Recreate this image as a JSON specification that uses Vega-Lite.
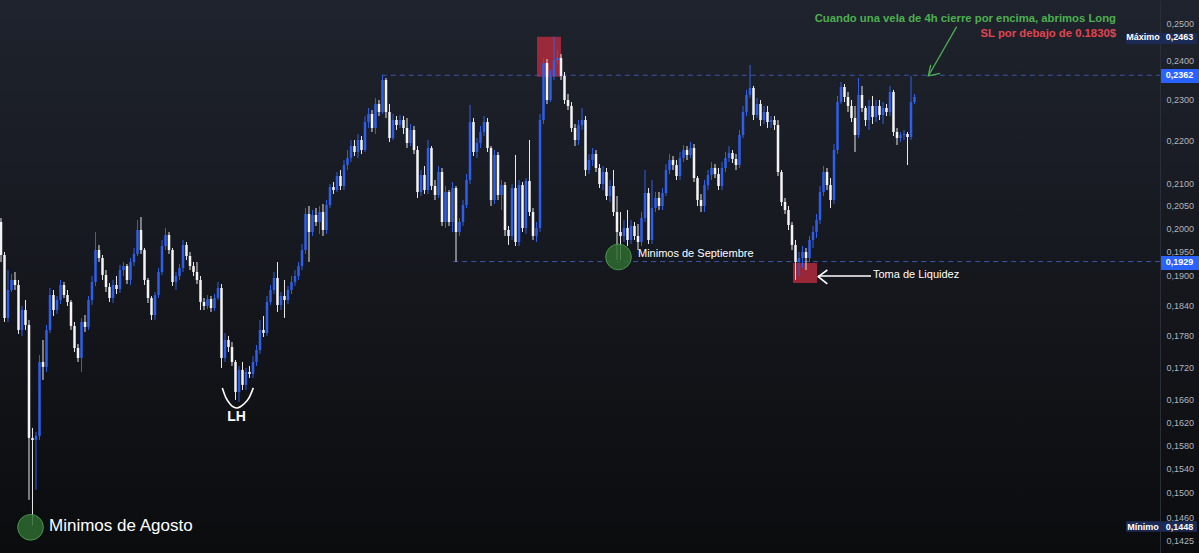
{
"$schema": "https://vega.github.io/schema/vega-lite/v6.json",
"width": 1199, "height": 553, "padding": 0, "autosize": {"type": "none"},
"background": "#131519",
"config": {"view": {"stroke": null, "fill": {"gradient": "linear", "x1": 0, "y1": 0, "x2": 0, "y2": 1, "stops": [{"offset": 0, "color": "#1f232d"}, {"offset": 1, "color": "#0b0c0e"}]}},
  "axisY": {"ticks": false, "grid": false, "domain": true, "domainColor": "#2a2e39", "labelColor": "#b2b5be", "labelFont": "Liberation Sans", "labelFontSize": 9, "labelPadding": 6, "labelOverlap": false, "labelFlush": false, "title": null}},
"datasets": {
"candles": [
{"k":0,"o":0.20138,"h":0.20225,"l":0.19281,"c":0.19429},
{"k":1,"o":0.19429,"h":0.19492,"l":0.18065,"c":0.18143},
{"k":2,"o":0.18143,"h":0.19114,"l":0.18065,"c":0.18703},
{"k":3,"o":0.18703,"h":0.19031,"l":0.18662,"c":0.18908},
{"k":4,"o":0.18908,"h":0.19073,"l":0.18703,"c":0.18805},
{"k":5,"o":0.18805,"h":0.18908,"l":0.17831,"c":0.17908},
{"k":6,"o":0.17908,"h":0.18381,"l":0.17792,"c":0.18301},
{"k":7,"o":0.18301,"h":0.18501,"l":0.17908,"c":0.18006},
{"k":8,"o":0.18006,"h":0.18104,"l":0.14889,"c":0.15926},
{"k":9,"o":0.15926,"h":0.16100,"l":0.14480,"c":0.15891},
{"k":10,"o":0.15891,"h":0.16030,"l":0.15051,"c":0.15961},
{"k":11,"o":0.15961,"h":0.17428,"l":0.15891,"c":0.17296},
{"k":12,"o":0.17296,"h":0.17714,"l":0.16962,"c":0.17203},
{"k":13,"o":0.17203,"h":0.18006,"l":0.17110,"c":0.17908},
{"k":14,"o":0.17908,"h":0.18744,"l":0.17850,"c":0.18602},
{"k":15,"o":0.18602,"h":0.18703,"l":0.18183,"c":0.18301},
{"k":16,"o":0.18301,"h":0.18582,"l":0.18222,"c":0.18501},
{"k":17,"o":0.18501,"h":0.18908,"l":0.18421,"c":0.18805},
{"k":18,"o":0.18805,"h":0.18867,"l":0.18541,"c":0.18602},
{"k":19,"o":0.18602,"h":0.18703,"l":0.18381,"c":0.18461},
{"k":20,"o":0.18461,"h":0.18501,"l":0.17908,"c":0.17986},
{"k":21,"o":0.17986,"h":0.18065,"l":0.17485,"c":0.17561},
{"k":22,"o":0.17561,"h":0.17638,"l":0.17296,"c":0.17371},
{"k":23,"o":0.17371,"h":0.18143,"l":0.17110,"c":0.18065},
{"k":24,"o":0.18065,"h":0.18202,"l":0.17869,"c":0.17967},
{"k":25,"o":0.17967,"h":0.18582,"l":0.17908,"c":0.18501},
{"k":26,"o":0.18501,"h":0.18990,"l":0.18401,"c":0.18867},
{"k":27,"o":0.18867,"h":0.19919,"l":0.18785,"c":0.19534},
{"k":28,"o":0.19534,"h":0.19641,"l":0.19281,"c":0.19365},
{"k":29,"o":0.19365,"h":0.19429,"l":0.18908,"c":0.19011},
{"k":30,"o":0.19011,"h":0.19114,"l":0.18662,"c":0.18764},
{"k":31,"o":0.18764,"h":0.18846,"l":0.18461,"c":0.18541},
{"k":32,"o":0.18541,"h":0.18908,"l":0.18441,"c":0.18805},
{"k":33,"o":0.18805,"h":0.18990,"l":0.18622,"c":0.18723},
{"k":34,"o":0.18723,"h":0.19218,"l":0.18642,"c":0.19114},
{"k":35,"o":0.19114,"h":0.19281,"l":0.18990,"c":0.19197},
{"k":36,"o":0.19197,"h":0.19239,"l":0.18826,"c":0.18908},
{"k":37,"o":0.18908,"h":0.19365,"l":0.18805,"c":0.19281},
{"k":38,"o":0.19281,"h":0.19577,"l":0.19197,"c":0.19450},
{"k":39,"o":0.19450,"h":0.20181,"l":0.19407,"c":0.19963},
{"k":40,"o":0.19963,"h":0.20247,"l":0.19450,"c":0.19534},
{"k":41,"o":0.19534,"h":0.19577,"l":0.18805,"c":0.18908},
{"k":42,"o":0.18908,"h":0.18949,"l":0.18441,"c":0.18541},
{"k":43,"o":0.18541,"h":0.18582,"l":0.18104,"c":0.18202},
{"k":44,"o":0.18202,"h":0.18662,"l":0.18104,"c":0.18602},
{"k":45,"o":0.18602,"h":0.19156,"l":0.18541,"c":0.19073},
{"k":46,"o":0.19073,"h":0.19748,"l":0.19011,"c":0.19619},
{"k":47,"o":0.19619,"h":0.20007,"l":0.19534,"c":0.19855},
{"k":48,"o":0.19855,"h":0.19919,"l":0.19450,"c":0.19534},
{"k":49,"o":0.19534,"h":0.19577,"l":0.18785,"c":0.18867},
{"k":50,"o":0.18867,"h":0.19073,"l":0.18703,"c":0.18990},
{"k":51,"o":0.18990,"h":0.19239,"l":0.18908,"c":0.19156},
{"k":52,"o":0.19156,"h":0.19748,"l":0.19073,"c":0.19641},
{"k":53,"o":0.19641,"h":0.19705,"l":0.19323,"c":0.19407},
{"k":54,"o":0.19407,"h":0.19492,"l":0.19114,"c":0.19197},
{"k":55,"o":0.19197,"h":0.19281,"l":0.18990,"c":0.19073},
{"k":56,"o":0.19073,"h":0.19281,"l":0.18826,"c":0.18908},
{"k":57,"o":0.18908,"h":0.18990,"l":0.18301,"c":0.18461},
{"k":58,"o":0.18461,"h":0.18541,"l":0.18301,"c":0.18381},
{"k":59,"o":0.18381,"h":0.18602,"l":0.18321,"c":0.18521},
{"k":60,"o":0.18521,"h":0.18582,"l":0.18262,"c":0.18341},
{"k":61,"o":0.18341,"h":0.18622,"l":0.18282,"c":0.18541},
{"k":62,"o":0.18541,"h":0.18867,"l":0.18501,"c":0.18744},
{"k":63,"o":0.18744,"h":0.18826,"l":0.17184,"c":0.17371},
{"k":64,"o":0.17371,"h":0.17850,"l":0.17296,"c":0.17714},
{"k":65,"o":0.17714,"h":0.17792,"l":0.17485,"c":0.17580},
{"k":66,"o":0.17580,"h":0.17676,"l":0.17221,"c":0.17296},
{"k":67,"o":0.17296,"h":0.17333,"l":0.16597,"c":0.16741},
{"k":68,"o":0.16741,"h":0.17221,"l":0.16561,"c":0.17147},
{"k":69,"o":0.17147,"h":0.17296,"l":0.16778,"c":0.16870},
{"k":70,"o":0.16870,"h":0.17184,"l":0.16778,"c":0.17110},
{"k":71,"o":0.17110,"h":0.17221,"l":0.16998,"c":0.17072},
{"k":72,"o":0.17072,"h":0.17409,"l":0.16998,"c":0.17296},
{"k":73,"o":0.17296,"h":0.17619,"l":0.17221,"c":0.17523},
{"k":74,"o":0.17523,"h":0.18104,"l":0.17447,"c":0.17908},
{"k":75,"o":0.17908,"h":0.18183,"l":0.17772,"c":0.17850},
{"k":76,"o":0.17850,"h":0.18582,"l":0.17792,"c":0.18461},
{"k":77,"o":0.18461,"h":0.18805,"l":0.18401,"c":0.18703},
{"k":78,"o":0.18703,"h":0.19073,"l":0.18622,"c":0.18949},
{"k":79,"o":0.18949,"h":0.19281,"l":0.18262,"c":0.18401},
{"k":80,"o":0.18401,"h":0.18662,"l":0.18301,"c":0.18582},
{"k":81,"o":0.18582,"h":0.18908,"l":0.18143,"c":0.18501},
{"k":82,"o":0.18501,"h":0.18785,"l":0.18421,"c":0.18703},
{"k":83,"o":0.18703,"h":0.18990,"l":0.18622,"c":0.18867},
{"k":84,"o":0.18867,"h":0.19114,"l":0.18785,"c":0.18990},
{"k":85,"o":0.18990,"h":0.19281,"l":0.18908,"c":0.19197},
{"k":86,"o":0.19197,"h":0.19662,"l":0.19114,"c":0.19534},
{"k":87,"o":0.19534,"h":0.20446,"l":0.19450,"c":0.20313},
{"k":88,"o":0.20313,"h":0.20491,"l":0.19281,"c":0.19920},
{"k":89,"o":0.19920,"h":0.20402,"l":0.19834,"c":0.20291},
{"k":90,"o":0.20291,"h":0.20446,"l":0.20051,"c":0.20138},
{"k":91,"o":0.20138,"h":0.20491,"l":0.19877,"c":0.20357},
{"k":92,"o":0.20357,"h":0.20536,"l":0.19834,"c":0.19963},
{"k":93,"o":0.19963,"h":0.20625,"l":0.19877,"c":0.20513},
{"k":94,"o":0.20513,"h":0.20986,"l":0.20446,"c":0.20918},
{"k":95,"o":0.20918,"h":0.21032,"l":0.20760,"c":0.20850},
{"k":96,"o":0.20850,"h":0.21262,"l":0.20805,"c":0.21170},
{"k":97,"o":0.21170,"h":0.21308,"l":0.20850,"c":0.20941},
{"k":98,"o":0.20941,"h":0.21541,"l":0.20850,"c":0.21424},
{"k":99,"o":0.21424,"h":0.21777,"l":0.21308,"c":0.21588},
{"k":100,"o":0.21588,"h":0.22015,"l":0.21494,"c":0.21871},
{"k":101,"o":0.21871,"h":0.22015,"l":0.21635,"c":0.21730},
{"k":102,"o":0.21730,"h":0.22159,"l":0.21588,"c":0.22015},
{"k":103,"o":0.22015,"h":0.22111,"l":0.21682,"c":0.21777},
{"k":104,"o":0.21777,"h":0.22596,"l":0.21730,"c":0.22449},
{"k":105,"o":0.22449,"h":0.22794,"l":0.22304,"c":0.22646},
{"k":106,"o":0.22646,"h":0.22744,"l":0.22207,"c":0.22304},
{"k":107,"o":0.22304,"h":0.23043,"l":0.22159,"c":0.22893},
{"k":108,"o":0.22893,"h":0.22993,"l":0.22596,"c":0.22695},
{"k":109,"o":0.22695,"h":0.23627,"l":0.22646,"c":0.23499},
{"k":110,"o":0.23499,"h":0.23550,"l":0.22547,"c":0.22695},
{"k":111,"o":0.22695,"h":0.22893,"l":0.21967,"c":0.22063},
{"k":112,"o":0.22063,"h":0.22646,"l":0.22015,"c":0.22498},
{"k":113,"o":0.22498,"h":0.22596,"l":0.22256,"c":0.22376},
{"k":114,"o":0.22376,"h":0.22621,"l":0.22304,"c":0.22498},
{"k":115,"o":0.22498,"h":0.22596,"l":0.22159,"c":0.22304},
{"k":116,"o":0.22304,"h":0.22547,"l":0.21824,"c":0.21943},
{"k":117,"o":0.21943,"h":0.22401,"l":0.21871,"c":0.22256},
{"k":118,"o":0.22256,"h":0.22352,"l":0.21682,"c":0.21777},
{"k":119,"o":0.21777,"h":0.21871,"l":0.20670,"c":0.20805},
{"k":120,"o":0.20805,"h":0.21308,"l":0.20715,"c":0.21193},
{"k":121,"o":0.21193,"h":0.21401,"l":0.20760,"c":0.20850},
{"k":122,"o":0.20850,"h":0.22015,"l":0.20760,"c":0.21824},
{"k":123,"o":0.21824,"h":0.21871,"l":0.20850,"c":0.20941},
{"k":124,"o":0.20941,"h":0.21078,"l":0.20625,"c":0.20737},
{"k":125,"o":0.20737,"h":0.21401,"l":0.20670,"c":0.21262},
{"k":126,"o":0.21262,"h":0.21355,"l":0.20051,"c":0.20138},
{"k":127,"o":0.20138,"h":0.20941,"l":0.20007,"c":0.20805},
{"k":128,"o":0.20805,"h":0.20850,"l":0.20051,"c":0.20138},
{"k":129,"o":0.20138,"h":0.21032,"l":0.19920,"c":0.20895},
{"k":130,"o":0.20895,"h":0.20941,"l":0.19290,"c":0.19920},
{"k":131,"o":0.19920,"h":0.20225,"l":0.19834,"c":0.20138},
{"k":132,"o":0.20138,"h":0.20625,"l":0.20051,"c":0.20513},
{"k":133,"o":0.20513,"h":0.21216,"l":0.20446,"c":0.21078},
{"k":134,"o":0.21078,"h":0.22868,"l":0.20986,"c":0.22449},
{"k":135,"o":0.22449,"h":0.22547,"l":0.21635,"c":0.21730},
{"k":136,"o":0.21730,"h":0.22063,"l":0.21588,"c":0.21943},
{"k":137,"o":0.21943,"h":0.22352,"l":0.21824,"c":0.22207},
{"k":138,"o":0.22207,"h":0.22596,"l":0.22111,"c":0.22449},
{"k":139,"o":0.22449,"h":0.22547,"l":0.21730,"c":0.21824},
{"k":140,"o":0.21824,"h":0.21871,"l":0.20491,"c":0.20625},
{"k":141,"o":0.20625,"h":0.21777,"l":0.20536,"c":0.21659},
{"k":142,"o":0.21659,"h":0.21730,"l":0.20625,"c":0.20737},
{"k":143,"o":0.20737,"h":0.21078,"l":0.20402,"c":0.20963},
{"k":144,"o":0.20963,"h":0.21032,"l":0.19834,"c":0.19963},
{"k":145,"o":0.19963,"h":0.20051,"l":0.19641,"c":0.19834},
{"k":146,"o":0.19834,"h":0.20986,"l":0.19748,"c":0.20895},
{"k":147,"o":0.20895,"h":0.21659,"l":0.19619,"c":0.19705},
{"k":148,"o":0.19705,"h":0.21078,"l":0.19619,"c":0.20963},
{"k":149,"o":0.20963,"h":0.21032,"l":0.19920,"c":0.20007},
{"k":150,"o":0.20007,"h":0.21124,"l":0.19877,"c":0.21055},
{"k":151,"o":0.21055,"h":0.22015,"l":0.20269,"c":0.20357},
{"k":152,"o":0.20357,"h":0.20446,"l":0.19748,"c":0.19834},
{"k":153,"o":0.19834,"h":0.20138,"l":0.19705,"c":0.20007},
{"k":154,"o":0.20007,"h":0.22646,"l":0.19920,"c":0.22498},
{"k":155,"o":0.22498,"h":0.24067,"l":0.22401,"c":0.23937},
{"k":156,"o":0.23937,"h":0.24041,"l":0.22893,"c":0.22993},
{"k":157,"o":0.22993,"h":0.23755,"l":0.22943,"c":0.23601},
{"k":158,"o":0.23601,"h":0.24630,"l":0.23499,"c":0.24015},
{"k":159,"o":0.24015,"h":0.24277,"l":0.23911,"c":0.24067},
{"k":160,"o":0.24067,"h":0.24172,"l":0.23499,"c":0.23601},
{"k":161,"o":0.23601,"h":0.23704,"l":0.22893,"c":0.22993},
{"k":162,"o":0.22993,"h":0.23144,"l":0.22744,"c":0.22844},
{"k":163,"o":0.22844,"h":0.22943,"l":0.22207,"c":0.22304},
{"k":164,"o":0.22304,"h":0.22401,"l":0.21871,"c":0.22015},
{"k":165,"o":0.22015,"h":0.22498,"l":0.21895,"c":0.22376},
{"k":166,"o":0.22376,"h":0.22794,"l":0.22256,"c":0.22498},
{"k":167,"o":0.22498,"h":0.22596,"l":0.21170,"c":0.21308},
{"k":168,"o":0.21308,"h":0.21682,"l":0.21216,"c":0.21541},
{"k":169,"o":0.21541,"h":0.21824,"l":0.21401,"c":0.21682},
{"k":170,"o":0.21682,"h":0.21777,"l":0.21262,"c":0.21355},
{"k":171,"o":0.21355,"h":0.21447,"l":0.20895,"c":0.20986},
{"k":172,"o":0.20986,"h":0.21401,"l":0.20850,"c":0.21262},
{"k":173,"o":0.21262,"h":0.21355,"l":0.20625,"c":0.20715},
{"k":174,"o":0.20715,"h":0.21078,"l":0.20580,"c":0.20941},
{"k":175,"o":0.20941,"h":0.21308,"l":0.20269,"c":0.20357},
{"k":176,"o":0.20357,"h":0.20715,"l":0.19323,"c":0.19920},
{"k":177,"o":0.19920,"h":0.20357,"l":0.19323,"c":0.19834},
{"k":178,"o":0.19834,"h":0.20181,"l":0.19705,"c":0.20007},
{"k":179,"o":0.20007,"h":0.20402,"l":0.19619,"c":0.19748},
{"k":180,"o":0.19748,"h":0.20181,"l":0.19662,"c":0.20051},
{"k":181,"o":0.20051,"h":0.20138,"l":0.19748,"c":0.19834},
{"k":182,"o":0.19834,"h":0.20094,"l":0.19534,"c":0.19705},
{"k":183,"o":0.19705,"h":0.20357,"l":0.19619,"c":0.20225},
{"k":184,"o":0.20225,"h":0.21308,"l":0.20138,"c":0.20782},
{"k":185,"o":0.20782,"h":0.20895,"l":0.19662,"c":0.19748},
{"k":186,"o":0.19748,"h":0.21078,"l":0.19662,"c":0.20446},
{"k":187,"o":0.20446,"h":0.20805,"l":0.20357,"c":0.20670},
{"k":188,"o":0.20670,"h":0.20805,"l":0.20402,"c":0.20491},
{"k":189,"o":0.20491,"h":0.20895,"l":0.20402,"c":0.20782},
{"k":190,"o":0.20782,"h":0.21447,"l":0.20715,"c":0.21308},
{"k":191,"o":0.21308,"h":0.21682,"l":0.21216,"c":0.21541},
{"k":192,"o":0.21541,"h":0.21635,"l":0.21308,"c":0.21424},
{"k":193,"o":0.21424,"h":0.21541,"l":0.21078,"c":0.21170},
{"k":194,"o":0.21170,"h":0.21730,"l":0.21078,"c":0.21588},
{"k":195,"o":0.21588,"h":0.21895,"l":0.21494,"c":0.21777},
{"k":196,"o":0.21777,"h":0.21871,"l":0.21541,"c":0.21659},
{"k":197,"o":0.21659,"h":0.21967,"l":0.21588,"c":0.21824},
{"k":198,"o":0.21824,"h":0.21919,"l":0.21032,"c":0.21124},
{"k":199,"o":0.21124,"h":0.21170,"l":0.20491,"c":0.20625},
{"k":200,"o":0.20625,"h":0.20760,"l":0.20357,"c":0.20491},
{"k":201,"o":0.20491,"h":0.21078,"l":0.20357,"c":0.20963},
{"k":202,"o":0.20963,"h":0.21308,"l":0.20850,"c":0.21193},
{"k":203,"o":0.21193,"h":0.21494,"l":0.21078,"c":0.21355},
{"k":204,"o":0.21355,"h":0.21447,"l":0.21124,"c":0.21216},
{"k":205,"o":0.21216,"h":0.21355,"l":0.20850,"c":0.20941},
{"k":206,"o":0.20941,"h":0.21494,"l":0.20850,"c":0.21355},
{"k":207,"o":0.21355,"h":0.21730,"l":0.21262,"c":0.21588},
{"k":208,"o":0.21588,"h":0.21871,"l":0.21494,"c":0.21706},
{"k":209,"o":0.21706,"h":0.21777,"l":0.21471,"c":0.21565},
{"k":210,"o":0.21565,"h":0.21682,"l":0.21308,"c":0.21424},
{"k":211,"o":0.21424,"h":0.22256,"l":0.21355,"c":0.22135},
{"k":212,"o":0.22135,"h":0.22844,"l":0.22063,"c":0.22695},
{"k":213,"o":0.22695,"h":0.23245,"l":0.22596,"c":0.23119},
{"k":214,"o":0.23119,"h":0.23885,"l":0.23043,"c":0.23295},
{"k":215,"o":0.23295,"h":0.23346,"l":0.22498,"c":0.22621},
{"k":216,"o":0.22621,"h":0.23043,"l":0.22547,"c":0.22893},
{"k":217,"o":0.22893,"h":0.22993,"l":0.22352,"c":0.22498},
{"k":218,"o":0.22498,"h":0.22844,"l":0.22401,"c":0.22695},
{"k":219,"o":0.22695,"h":0.22844,"l":0.22304,"c":0.22449},
{"k":220,"o":0.22449,"h":0.22596,"l":0.22304,"c":0.22498},
{"k":221,"o":0.22498,"h":0.22596,"l":0.22256,"c":0.22376},
{"k":222,"o":0.22376,"h":0.22498,"l":0.21170,"c":0.21262},
{"k":223,"o":0.21262,"h":0.21308,"l":0.20491,"c":0.20580},
{"k":224,"o":0.20580,"h":0.20670,"l":0.20313,"c":0.20402},
{"k":225,"o":0.20402,"h":0.20491,"l":0.19963,"c":0.20072},
{"k":226,"o":0.20072,"h":0.20138,"l":0.19534,"c":0.19641},
{"k":227,"o":0.19641,"h":0.19748,"l":0.18908,"c":0.19281},
{"k":228,"o":0.19281,"h":0.19492,"l":0.18990,"c":0.19365},
{"k":229,"o":0.19365,"h":0.19619,"l":0.19156,"c":0.19492},
{"k":230,"o":0.19492,"h":0.19577,"l":0.19114,"c":0.19365},
{"k":231,"o":0.19365,"h":0.19834,"l":0.19281,"c":0.19748},
{"k":232,"o":0.19748,"h":0.20051,"l":0.19577,"c":0.19920},
{"k":233,"o":0.19920,"h":0.20313,"l":0.19791,"c":0.20181},
{"k":234,"o":0.20181,"h":0.20941,"l":0.20094,"c":0.20805},
{"k":235,"o":0.20805,"h":0.21401,"l":0.20715,"c":0.21262},
{"k":236,"o":0.21262,"h":0.21355,"l":0.20850,"c":0.20963},
{"k":237,"o":0.20963,"h":0.21124,"l":0.20446,"c":0.20625},
{"k":238,"o":0.20625,"h":0.21919,"l":0.20536,"c":0.21777},
{"k":239,"o":0.21777,"h":0.23094,"l":0.21682,"c":0.22943},
{"k":240,"o":0.22943,"h":0.23448,"l":0.22893,"c":0.23320},
{"k":241,"o":0.23320,"h":0.23397,"l":0.22943,"c":0.23068},
{"k":242,"o":0.23068,"h":0.23195,"l":0.22695,"c":0.22844},
{"k":243,"o":0.22844,"h":0.22993,"l":0.22449,"c":0.22547},
{"k":244,"o":0.22547,"h":0.22844,"l":0.21730,"c":0.22135},
{"k":245,"o":0.22135,"h":0.23550,"l":0.22063,"c":0.23119},
{"k":246,"o":0.23119,"h":0.23346,"l":0.22695,"c":0.22794},
{"k":247,"o":0.22794,"h":0.22844,"l":0.22352,"c":0.22498},
{"k":248,"o":0.22498,"h":0.22993,"l":0.22256,"c":0.22844},
{"k":249,"o":0.22844,"h":0.23094,"l":0.22401,"c":0.22572},
{"k":250,"o":0.22572,"h":0.22993,"l":0.22449,"c":0.22844},
{"k":251,"o":0.22844,"h":0.22993,"l":0.22498,"c":0.22621},
{"k":252,"o":0.22621,"h":0.22943,"l":0.22401,"c":0.22794},
{"k":253,"o":0.22794,"h":0.22893,"l":0.22596,"c":0.22695},
{"k":254,"o":0.22695,"h":0.23346,"l":0.22596,"c":0.23194},
{"k":255,"o":0.23194,"h":0.23245,"l":0.22111,"c":0.22207},
{"k":256,"o":0.22207,"h":0.22304,"l":0.21895,"c":0.22063},
{"k":257,"o":0.22063,"h":0.22207,"l":0.21967,"c":0.22135},
{"k":258,"o":0.22135,"h":0.22256,"l":0.22015,"c":0.22159},
{"k":259,"o":0.22159,"h":0.22207,"l":0.21424,"c":0.22087},
{"k":260,"o":0.22087,"h":0.23600,"l":0.22015,"c":0.22943},
{"k":261,"o":0.22943,"h":0.23144,"l":0.22893,"c":0.23068}
]
},
"layer": [
{"data": {"values": [{"x0": 153.14, "x1": 160.0, "p0": 0.2463, "p1": 0.2358}, {"x0": 226.29, "x1": 233.14, "p0": 0.1926, "p1": 0.18846}]},
 "mark": {"type": "rect", "fill": "#b02a3c", "opacity": 0.85},
 "encoding": {
  "x": {"field": "x0", "type": "quantitative", "scale": {"domain": [-0.2857, 342.2857], "nice": false, "zero": false, "padding": 0}, "axis": null},
  "x2": {"field": "x1"},
  "y": {"field": "p0", "type": "quantitative", "scale": {"type": "log", "domain": [0.14053, 0.25633], "nice": false, "padding": 0}, "title": null,
        "axis": {"orient": "right", "offset": -39, "values": [0.25,0.24,0.23,0.22,0.21,0.205,0.2,0.195,0.19,0.184,0.178,0.172,0.166,0.162,0.158,0.154,0.15,0.146,0.1425],
                 "labelExpr": "replace(format(datum.value, '.4f'), '.', ',')"}},
  "y2": {"field": "p1"}
 }},
{"data": {"values": [{"x0": 108.8, "x1": 331.1, "p": 0.2362}, {"x0": 129.2, "x1": 331.1, "p": 0.1929}]},
 "mark": {"type": "rule", "color": "#3c55a8", "strokeDash": [5, 4], "strokeWidth": 1},
 "encoding": {"x": {"field": "x0", "type": "quantitative", "axis": null}, "x2": {"field": "x1"}, "y": {"field": "p", "type": "quantitative", "title": null}}},
{"data": {"name": "candles"},
 "mark": {"type": "rule", "strokeWidth": 1},
 "encoding": {"x": {"field": "k", "type": "quantitative", "axis": null}, "y": {"field": "l", "type": "quantitative", "title": null}, "y2": {"field": "h"},
   "color": {"condition": {"test": "datum.c >= datum.o", "value": "#2f5fe8"}, "value": "#e8e8e8"}}},
{"data": {"name": "candles"},
 "mark": {"type": "bar", "width": 2.5},
 "encoding": {"x": {"field": "k", "type": "quantitative", "axis": null}, "y": {"field": "o", "type": "quantitative", "title": null}, "y2": {"field": "c"},
   "color": {"condition": {"test": "datum.c >= datum.o", "value": "#2f5fe8"}, "value": "#f4f4f4"}}},
{"data": {"values": [{"k": 8.43, "p": 0.14451}, {"k": 176.43, "p": 0.19386}]},
 "mark": {"type": "point", "filled": true, "size": 660, "fill": "#2e6b30", "fillOpacity": 0.85, "stroke": "#4f9a55", "strokeWidth": 1, "strokeOpacity": 0.9},
 "encoding": {"x": {"field": "k", "type": "quantitative", "axis": null}, "y": {"field": "p", "type": "quantitative", "title": null}}},
{"data": {"values": [{"k": 63.23, "p": 0.16815, "n": 1}, {"k": 64.29, "p": 0.16633, "n": 2}, {"k": 65.43, "p": 0.16525, "n": 3}, {"k": 67.43, "p": 0.16453, "n": 4}, {"k": 69.43, "p": 0.16525, "n": 5}, {"k": 70.86, "p": 0.16633, "n": 6}, {"k": 72.09, "p": 0.16815, "n": 7}]},
 "mark": {"type": "line", "color": "#ffffff", "strokeWidth": 1.6, "interpolate": "monotone"},
 "encoding": {"x": {"field": "k", "type": "quantitative", "axis": null}, "y": {"field": "p", "type": "quantitative", "title": null}, "order": {"field": "n"}}},
{"data": {"values": [{"g": "a", "n": 1, "k": 233.43, "p": 0.1899}, {"g": "a", "n": 2, "k": 248.57, "p": 0.1899}, {"g": "b", "n": 1, "k": 236.09, "p": 0.19114}, {"g": "b", "n": 2, "k": 233.51, "p": 0.18976}, {"g": "b", "n": 3, "k": 236.09, "p": 0.18826}]},
 "mark": {"type": "line", "color": "#ffffff", "strokeWidth": 1.6},
 "encoding": {"x": {"field": "k", "type": "quantitative", "axis": null}, "y": {"field": "p", "type": "quantitative", "title": null}, "detail": {"field": "g"}, "order": {"field": "n"}}},
{"data": {"values": [{"g": "a", "n": 1, "k": 273.06, "p": 0.249}, {"g": "a", "n": 2, "k": 264.94, "p": 0.23601}, {"g": "b", "n": 1, "k": 265.63, "p": 0.23885}, {"g": "b", "n": 2, "k": 264.94, "p": 0.23601}, {"g": "b", "n": 3, "k": 268.29, "p": 0.2367}]},
 "mark": {"type": "line", "color": "#4caf50", "strokeWidth": 1.3},
 "encoding": {"x": {"field": "k", "type": "quantitative", "axis": null}, "y": {"field": "p", "type": "quantitative", "title": null}, "detail": {"field": "g"}, "order": {"field": "n"}}},
{"data": {"values": [{"k": 13.71, "p": 0.14474, "t": "Minimos de Agosto"}]},
 "mark": {"type": "text", "align": "left", "baseline": "middle", "color": "#ffffff", "font": "Liberation Sans", "fontSize": 17},
 "encoding": {"x": {"field": "k", "type": "quantitative", "axis": null}, "y": {"field": "p", "type": "quantitative", "title": null}, "text": {"field": "t"}}},
{"data": {"values": [{"k": 182.0, "p": 0.1945, "t": "Minimos de Septiembre"}, {"k": 249.14, "p": 0.19011, "t": "Toma de Liquidez"}]},
 "mark": {"type": "text", "align": "left", "baseline": "middle", "color": "#ffffff", "font": "Liberation Sans", "fontSize": 11},
 "encoding": {"x": {"field": "k", "type": "quantitative", "axis": null}, "y": {"field": "p", "type": "quantitative", "title": null}, "text": {"field": "t"}}},
{"data": {"values": [{"k": 67.29, "p": 0.16293, "t": "LH"}]},
 "mark": {"type": "text", "align": "center", "baseline": "middle", "color": "#ffffff", "font": "Liberation Sans", "fontSize": 14, "fontWeight": "bold"},
 "encoding": {"x": {"field": "k", "type": "quantitative", "axis": null}, "y": {"field": "p", "type": "quantitative", "title": null}, "text": {"field": "t"}}},
{"data": {"values": [{"k": 318.57, "p": 0.25109, "t": "Cuando una vela de 4h cierre por encima, abrimos Long"}]},
 "mark": {"type": "text", "align": "right", "baseline": "middle", "color": "#4caf50", "font": "Liberation Sans", "fontSize": 11.3, "fontWeight": "bold"},
 "encoding": {"x": {"field": "k", "type": "quantitative", "axis": null}, "y": {"field": "p", "type": "quantitative", "title": null}, "text": {"field": "t"}}},
{"data": {"values": [{"k": 318.57, "p": 0.24703, "t": "SL por debajo de 0.1830$"}]},
 "mark": {"type": "text", "align": "right", "baseline": "middle", "color": "#e04550", "font": "Liberation Sans", "fontSize": 11.3, "fontWeight": "bold"},
 "encoding": {"x": {"field": "k", "type": "quantitative", "axis": null}, "y": {"field": "p", "type": "quantitative", "title": null}, "text": {"field": "t"}}},
{"data": {"values": [{"x0": 321.43, "x1": 341.71, "p0": 0.2473, "p1": 0.24437}, {"x0": 321.43, "x1": 341.71, "p0": 0.14545, "p1": 0.1438}]},
 "mark": {"type": "rect", "fill": "#1c2b55"},
 "encoding": {"x": {"field": "x0", "type": "quantitative", "axis": null}, "x2": {"field": "x1"}, "y": {"field": "p0", "type": "quantitative", "title": null}, "y2": {"field": "p1"}}},
{"data": {"values": [{"x0": 331.43, "x1": 342.29, "p0": 0.23781, "p1": 0.23422}, {"x0": 331.43, "x1": 342.29, "p0": 0.19407, "p1": 0.19114}]},
 "mark": {"type": "rect", "fill": "#2962ff"},
 "encoding": {"x": {"field": "x0", "type": "quantitative", "axis": null}, "x2": {"field": "x1"}, "y": {"field": "p0", "type": "quantitative", "title": null}, "y2": {"field": "p1"}}},
{"data": {"values": [{"k": 336.7, "p": 0.2463, "t": "0,2463"}, {"k": 336.7, "p": 0.2362, "t": "0,2362"}, {"k": 336.7, "p": 0.1929, "t": "0,1929"}, {"k": 336.7, "p": 0.14462, "t": "0,1448"}, {"k": 326.3, "p": 0.2463, "t": "Máximo"}, {"k": 326.3, "p": 0.14462, "t": "Mínimo"}]},
 "mark": {"type": "text", "align": "center", "baseline": "middle", "color": "#ffffff", "font": "Liberation Sans", "fontSize": 9, "fontWeight": "bold"},
 "encoding": {"x": {"field": "k", "type": "quantitative", "axis": null}, "y": {"field": "p", "type": "quantitative", "title": null}, "text": {"field": "t"}}}
]
}
